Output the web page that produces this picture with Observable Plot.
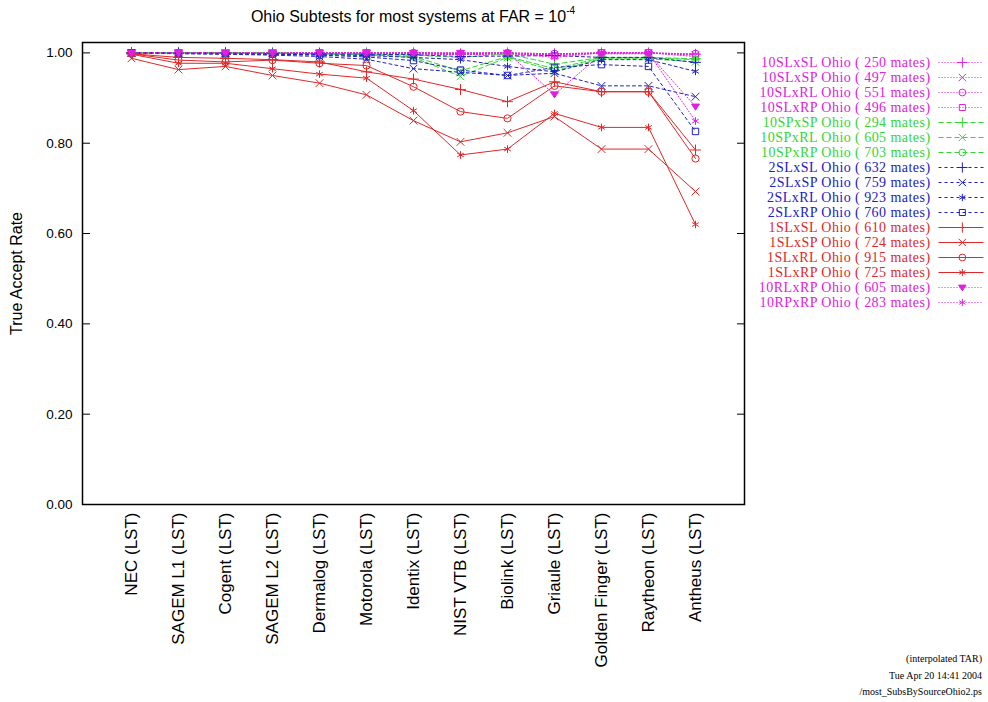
<!DOCTYPE html>
<html>
<head>
<meta charset="utf-8">
<script src="https://cdn.jsdelivr.net/npm/d3@7"></script>
<script src="https://cdn.jsdelivr.net/npm/@observablehq/plot@0.6"></script>
<style>
  html, body { margin: 0; padding: 0; background: #fff; }
  #wrap { position: relative; width: 988px; height: 702px; overflow: hidden; }
  #wrap svg { position: absolute; }
  #title { position: absolute; top: 7px; left: 0; width: 826px; text-align: center;
           font-family: "Liberation Sans", Arial, sans-serif; font-size: 16px; color: #000; }
  #title sup { font-size: 10px; position: relative; top: -2px; }
  .cap { position: absolute; right: 6px; font-family: "Liberation Serif", "Times New Roman", serif;
         font-size: 10px; color: #000; white-space: nowrap; }
</style>
</head>
<body>
<div id="wrap">
  <div id="title">Ohio Subtests for most systems at FAR = 10<sup>-4</sup></div>
  <div class="cap" style="top:653px">(interpolated TAR)</div>
  <div class="cap" style="top:670px">Tue Apr 20 14:41 2004</div>
  <div class="cap" style="top:686px">/most_SubsBySourceOhio2.ps</div>
</div>
<script>
// ---- categories ----
const systems = ["NEC (LST)","SAGEM L1 (LST)","Cogent (LST)","SAGEM L2 (LST)","Dermalog (LST)","Motorola (LST)",
  "Identix (LST)","NIST VTB (LST)","Biolink (LST)","Griaule (LST)","Golden Finger (LST)","Raytheon (LST)","Antheus (LST)"];

// ---- series names and mate counts ----
const seriesNames = ["10SLxSL","10SLxSP","10SLxRL","10SLxRP","10SPxSP","10SPxRL","10SPxRP",
  "2SLxSL","2SLxSP","2SLxRL","2SLxRP","1SLxSL","1SLxSP","1SLxRL","1SLxRP","10RLxRP","10RPxRP"];
const mates = [250,497,551,496,294,605,703,632,759,923,760,610,724,915,725,605,283];

// ---- values (True Accept Rate per system) ----
const v10SLxSL = [1.000,1.000,1.000,1.000,1.000,1.000,1.000,0.998,1.000,0.998,1.000,1.000,0.997];
const v10SLxSP = [1.000,1.000,1.000,1.000,1.000,1.000,0.998,0.996,0.998,0.996,1.000,1.000,0.995];
const v10SLxRL = [1.000,1.000,1.000,1.000,1.000,1.000,1.000,0.998,1.000,0.998,1.000,1.000,0.998];
const v10SLxRP = [1.000,1.000,1.000,1.000,1.000,1.000,0.998,0.996,0.998,0.994,1.000,1.000,0.992];
const v10SPxSP = [1.000,1.000,1.000,1.000,0.998,0.998,0.995,0.990,0.998,0.975,0.990,0.990,0.987];
const v10SPxRL = [1.000,1.000,1.000,1.000,0.998,0.996,0.990,0.948,0.990,0.960,0.987,0.987,0.980];
const v10SPxRP = [1.000,1.000,1.000,1.000,0.998,0.996,0.992,0.960,0.992,0.965,0.989,0.989,0.985];
const v2SLxSL  = [1.000,1.000,1.000,0.998,0.998,0.997,0.996,0.992,0.993,0.994,0.990,0.990,0.979];
const v2SLxSP  = [1.000,0.998,0.997,0.995,0.992,0.986,0.965,0.957,0.950,0.955,0.927,0.927,0.903];
const v2SLxRL  = [1.000,0.999,0.998,0.997,0.996,0.994,0.990,0.985,0.970,0.958,0.985,0.985,0.959];
const v2SLxRP  = [1.000,0.999,0.998,0.997,0.995,0.991,0.983,0.962,0.950,0.968,0.974,0.970,0.826];
const v1SLxSL  = [0.998,0.990,0.988,0.985,0.980,0.958,0.942,0.919,0.892,0.936,0.914,0.914,0.785];
const v1SLxSP  = [0.988,0.963,0.970,0.950,0.933,0.907,0.850,0.803,0.823,0.859,0.787,0.787,0.693];
const v1SLxRL  = [0.998,0.984,0.980,0.984,0.977,0.972,0.925,0.870,0.855,0.927,0.914,0.914,0.766];
const v1SLxRP  = [0.997,0.977,0.977,0.965,0.953,0.944,0.872,0.774,0.787,0.866,0.835,0.835,0.620];
const v10RLxRP = [1.000,1.000,1.000,1.000,1.000,1.000,1.000,1.000,1.000,0.908,0.998,0.998,0.881];
const v10RPxRP = [1.000,1.000,1.000,1.000,1.000,1.000,1.000,1.000,1.000,0.990,1.000,1.000,0.849];

const seriesValues = [v10SLxSL,v10SLxSP,v10SLxRL,v10SLxRP,v10SPxSP,v10SPxRL,v10SPxRP,
  v2SLxSL,v2SLxSP,v2SLxRL,v2SLxRP,v1SLxSL,v1SLxSP,v1SLxRL,v1SLxRP,v10RLxRP,v10RPxRP];

const yTicks = [0, 0.2, 0.4, 0.6, 0.8, 1.0];

// ---- styles ----
const MAG = "#e020e0", GRN = "#33d633", BLU = "#2020c8", RED = "#e02828";
const triDown = {
  draw(ctx, size) {
    const s = Math.sqrt(size) * 0.62;
    ctx.moveTo(-s, -s * 0.65); ctx.lineTo(s, -s * 0.65); ctx.lineTo(0, s * 0.9); ctx.closePath();
  }
};
const symbolNames = ["plus","times","circle","square", "plus","times","circle",
  "plus","times","asterisk","square", "plus","times","circle","asterisk", "tri","asterisk"];
const styles = seriesNames.map((n, i) => {
  let color, dash;
  if (n.startsWith("10SL") || n.startsWith("10R")) { color = MAG; dash = "1,2"; }
  else if (n.startsWith("10SP")) { color = GRN; dash = "5,3"; }
  else if (n.startsWith("2SL")) { color = BLU; dash = "3,3"; }
  else { color = RED; dash = null; }
  const sn = symbolNames[i];
  return {color, dash, symbol: sn === "tri" ? triDown : sn, fill: sn === "tri" ? color : "none"};
});

// ---- long table ----
const rows = seriesNames.map((name, i) =>
  systems.map((sys, j) => ({series: name, system: sys, value: seriesValues[i][j]}))
);

const FONT = "Liberation Sans, Arial, Helvetica, sans-serif";

const marks = [];
seriesNames.forEach((name, i) => {
  const st = styles[i];
  marks.push(Plot.line(rows[i], {x: "system", y: "value", stroke: st.color, strokeWidth: 1,
    strokeDasharray: st.dash || undefined}));
  marks.push(Plot.dot(rows[i], {x: "system", y: "value", symbol: st.symbol, r: 3.6,
    stroke: st.color, strokeWidth: 1, fill: st.fill}));
});

const main = Plot.plot({
  width: 988, height: 702,
  marginLeft: 82, marginRight: 244, marginTop: 42, marginBottom: 198,
  style: {fontFamily: FONT, background: "transparent", color: "#000"},
  x: {type: "point", domain: systems, padding: 1},
  y: {domain: [0, 1.023]},
  marks: [
    Plot.axisX({tickSize: 0, tickPadding: 8, tickRotate: -90, fontSize: 17, label: null}),
    Plot.axisY(yTicks, {tickSize: 0, tickPadding: 10, tickFormat: ".2f", fontSize: 13.5,
      label: "True Accept Rate", labelAnchor: "center", labelOffset: 72, labelArrow: "none"}),
    Plot.axisY(yTicks, {anchor: "left", tickSize: 8, dx: 8, tickFormat: () => "", label: null}),
    Plot.axisY(yTicks, {anchor: "right", tickSize: 8, dx: -8, tickFormat: () => "", label: null}),
    ...marks,
    Plot.frame({stroke: "#000", strokeWidth: 1.5})
  ]
});
main.style.left = "0px"; main.style.top = "0px";
main.querySelectorAll("text").forEach(t => {
  if (t.textContent.trim() === "True Accept Rate") t.setAttribute("font-size", "16");
});
document.getElementById("wrap").appendChild(main);

// ---- legend (separate Plot) ----
const legendRows = seriesNames.map((n, i) => ({key: n, label: `${n} Ohio ( ${mates[i]} mates)`}));
const legendMarks = [];
legendRows.forEach((r, i) => {
  const st = styles[i];
  legendMarks.push(Plot.text([r], {x: 0, y: "key", text: "label", textAnchor: "end", dx: -8,
    fill: st.color, fontSize: 14, fontFamily: "Liberation Serif, Times New Roman, serif"}));
  legendMarks.push(Plot.link([r], {x1: 0, x2: 1, y1: "key", y2: "key", stroke: st.color, strokeWidth: 1,
    strokeDasharray: st.dash || undefined}));
  legendMarks.push(Plot.dot([r], {x: 0.53, y: "key", symbol: st.symbol, r: 3.4, stroke: st.color,
    strokeWidth: 1, fill: st.fill}));
});
const legend = Plot.plot({
  width: 238, height: 290,
  margin: 0,
  style: {background: "transparent", letterSpacing: "0.45px"},
  x: {domain: [0, 1], range: [188, 233], axis: null},
  y: {type: "point", domain: seriesNames, range: [18.3, 266.7], padding: 0, axis: null},
  marks: legendMarks
});
legend.style.left = "750px"; legend.style.top = "40px";
document.getElementById("wrap").appendChild(legend);
</script>
</body>
</html>
